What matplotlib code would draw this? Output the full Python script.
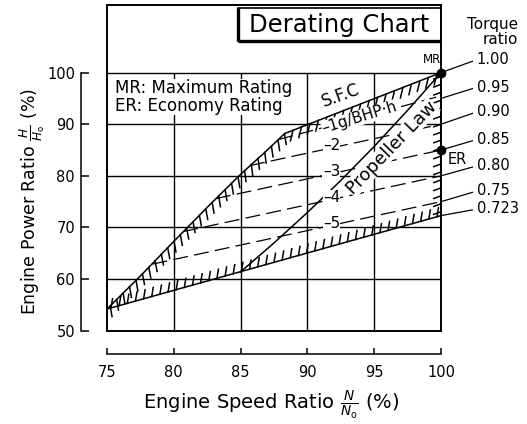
import matplotlib
matplotlib.use('Agg')
import matplotlib.pyplot as plt
from matplotlib import patheffects
from matplotlib.patches import Rectangle

# axes ticks
speed_ticks = [75, 80, 85, 90, 95, 100]
power_ticks = [50, 60, 70, 80, 90, 100]

# upper limit of the operating range
upper_speed = [75, 77.5, 80, 82.5, 85, 87, 88.3, 100]
upper_power = [54.2, 60.6, 67.3, 73.9, 80.3, 85.0, 88.2, 100]

# lower limit = torque ratio 0.723
lower_speed = [75, 100]
lower_power = [54.2, 72.3]

# right limit at 100% speed
right_speed = [100, 100]
right_power = [100, 72.3]

# propeller law
prop_speed = [85.0, 87.5, 90, 92.5, 95, 97.5, 100]
prop_power = [61.4, 67.0, 72.9, 79.1, 85.7, 92.7, 100]

# S.F.C lines
sfc_labels = ['\u20131g/BHP\u00b7h', '\u20132', '\u20133', '\u20134', '\u20135']
sfc_start_speed = [87.8, 85.7, 83.15, 80.7, 78.4]
sfc_start_power = [87.0, 82.0, 75.6, 69.2, 62.9]
sfc_end_power = [95.5, 90, 85, 80, 75]

# torque ratio lines and where their labels sit
torque_labels = ['1.00', '0.95', '0.90', '0.85', '0.80', '0.75', '0.723']
torque_power = [100, 95, 90, 85, 80, 75, 72.3]
torque_label_power = [102.5, 97.2, 92.4, 87.1, 82.0, 77.1, 73.7]

# rating points
rating_names = ['MR', 'ER']
rating_power = [100, 85]

fig = plt.figure(figsize=(5.27, 4.24), dpi=100)
ax = fig.add_axes([107/527, 1-330.7/424, (441-107)/527, (330.7-4.5)/424])
ax.set_xlim(75, 100)
ax.set_ylim(50, 113.2)

for s in ['top', 'right']:
    ax.spines[s].set_visible(False)
ax.spines['left'].set_position(('outward', 18.7))
ax.spines['left'].set_bounds(50, 100)
ax.spines['bottom'].set_position(('outward', 16.5))
ax.spines['bottom'].set_bounds(75, 100)
ax.spines['left'].set_linewidth(1.1)
ax.spines['bottom'].set_linewidth(1.1)
ax.set_xticks(speed_ticks)
ax.set_yticks(power_ticks)
ax.tick_params(axis='both', direction='in', labelsize=10.5, width=1.1)
ax.tick_params(axis='x', length=4.5, pad=8)
ax.tick_params(axis='y', length=5.5, pad=4.3)

# frame of the chart
ax.add_patch(Rectangle((0, 0), 1, 1, transform=ax.transAxes, fill=False,
                       lw=1.4, ec='k', clip_on=False))

# grid
ax.vlines(speed_ticks[1:-1], 50, 100, color='k', lw=1)
ax.hlines(power_ticks[1:], 75, 100, color='k', lw=1)

# operating envelope with hatching on the inside
ax.plot(upper_speed, upper_power, 'k', lw=1.1,
        path_effects=[patheffects.withTickedStroke(angle=-125, spacing=6.5, length=1.2)])
ax.plot(lower_speed, lower_power, 'k', lw=1.1,
        path_effects=[patheffects.withTickedStroke(angle=65, spacing=6, length=1.1)])
ax.plot(right_speed, right_power, 'k', lw=1.1, clip_on=False,
        path_effects=[patheffects.withTickedStroke(angle=-70, spacing=5.5, length=1.0)])

# propeller law
ax.plot(prop_speed, prop_power, 'k', lw=1.1)
ax.text(96.3, 85.5, 'Propeller Law', fontsize=13, rotation=46, ha='center', va='center',
        rotation_mode='anchor', bbox=dict(fc='white', ec='none', pad=0.3), zorder=4)

# S.F.C dashed lines
for i in range(len(sfc_labels)):
    x0, y0, y1 = sfc_start_speed[i], sfc_start_power[i], sfc_end_power[i]
    ax.plot([x0, 100], [y0, y1], color='k', lw=0.9, dashes=(12, 5))
    if i == 0:
        lx = 93.9
        ly = y0 + (y1 - y0) * (lx - x0) / (100 - x0)
        ax.text(lx, ly, sfc_labels[i], fontsize=11, rotation=17, ha='center', va='center',
                rotation_mode='anchor', bbox=dict(fc='white', ec='none', pad=0.2), zorder=4)
    else:
        lx = 91.8
        ly = y0 + (y1 - y0) * (lx - x0) / (100 - x0)
        ax.text(lx, ly + 0.4, sfc_labels[i], fontsize=11, ha='center', va='center',
                bbox=dict(fc='white', ec='none', pad=0.2), zorder=4)
ax.text(92.5, 95.6, 'S.F.C', fontsize=12, rotation=20, ha='center', va='center',
        rotation_mode='anchor', zorder=4)

# torque ratio leaders and labels
for lab, p, lp in zip(torque_labels, torque_power, torque_label_power):
    ax.plot([100, 102.35], [p, lp - 0.3], color='k', lw=0.9, clip_on=False)
    ax.text(102.67, lp, lab, fontsize=10.5, ha='left', va='center')
ax.text(105.8, 107.8, 'Torque\nratio', fontsize=11, ha='right', va='center',
        multialignment='right', linespacing=1.0)

# rating points
ax.plot([100] * len(rating_power), rating_power, 'o', color='k', ms=6, clip_on=False, zorder=6)
ax.text(99.36, 102.6, rating_names[0], fontsize=8.5, ha='center', va='center')
ax.text(101.2, 83.1, rating_names[1], fontsize=10.5, ha='center', va='center')

# legend box
ax.text(75.6, 95.3, 'MR: Maximum Rating\nER: Economy Rating', fontsize=12,
        ha='left', va='center', linespacing=1.0,
        bbox=dict(fc='white', ec='none', pad=0.3), zorder=5)

# title box
ax.add_patch(Rectangle((84.8, 106.1), 100 - 84.8, 112.5 - 106.1, fill=False, ec='k',
                       lw=1.2, clip_on=False))
ax.plot([84.8, 84.8], [106.1, 112.5], 'k', lw=2.4, solid_capstyle='butt')
ax.plot([84.8, 100], [106.1, 106.1], 'k', lw=2.4, solid_capstyle='butt')
ax.text(92.4, 109.3, 'Derating Chart', fontsize=17.5, ha='center', va='center')

# axis titles
fig.text(0.514, 0.045, r'Engine Speed Ratio $\frac{N}{N_\mathrm{o}}$ (%)', fontsize=14,
         ha='center', va='center')
fig.text(0.061, 0.526, r'Engine Power Ratio $\frac{H}{H_\mathrm{o}}$ (%)', fontsize=12.5,
         ha='center', va='center', rotation=90)

fig.savefig('out.png', dpi=100)
